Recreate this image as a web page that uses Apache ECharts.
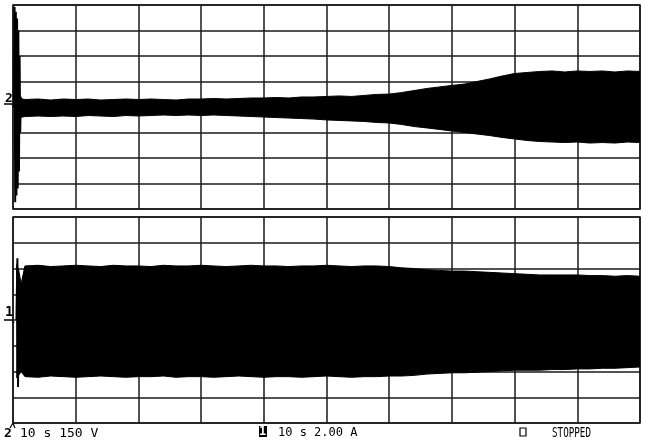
<!DOCTYPE html>
<html>
<head>
<meta charset="utf-8">
<script src="https://cdn.jsdelivr.net/npm/echarts@6/dist/echarts.min.js"></script>
<style>
  html, body { margin: 0; padding: 0; background: #fff; }
  #chart { width: 645px; height: 443px; }
</style>
</head>
<body>
<div id="chart"></div>
<script>
// channel 2 (150 V/div) envelope of the oscillation, time in s (10 s/div)
const ch2Time = [1, 2, 4, 6, 8, 10, 12, 14, 16, 18, 20, 22, 24, 26, 28, 30, 32, 34, 36, 38, 40,
  42, 44, 46, 48, 50, 52, 54, 56, 58, 60, 62, 64, 66, 68, 70, 72, 74, 76, 78, 80,
  82, 84, 86, 88, 90, 92, 94, 96, 98, 100];
const ch2Upper = [50, 44, 47, 41, 47, 44, 47, 41, 44, 47, 44, 47, 44, 41, 47, 47, 50, 47, 50, 53, 53,
  56, 53, 59, 59, 62, 65, 62, 68, 74, 76, 85, 97, 109, 118, 127, 135, 150, 165, 182, 197,
  203, 209, 212, 206, 212, 209, 212, 206, 212, 209];
const ch2Lower = [-62, -56, -53, -56, -53, -56, -50, -53, -56, -50, -53, -50, -47, -50, -47, -50, -47, -50, -53, -56, -59,
  -62, -65, -68, -71, -76, -79, -82, -85, -91, -94, -103, -115, -123, -132, -141, -150, -159, -168, -179, -188,
  -197, -203, -206, -209, -206, -212, -209, -212, -206, -209];
// switch-on transient at the start of channel 2
const ch2Spike = [[0.15, 0], [0.25, 590], [0.35, -560], [0.45, 560], [0.55, -520], [0.65, 520],
  [0.75, -480], [0.85, 450], [0.95, -380], [1.05, 300], [1.15, -150], [1.25, 60]];

// channel 1 (2.00 A/div) envelope
const ch1Time = [0.6, 0.9, 1.3, 1.9, 4, 6, 8, 10, 12, 14, 16, 18, 20, 22, 24, 26, 28, 30, 32, 34, 36, 38, 40,
  42, 44, 46, 48, 50, 52, 54, 56, 58, 60, 62, 64, 66, 68, 70, 72, 74, 76, 78, 80,
  82, 84, 86, 88, 90, 92, 94, 96, 98, 100];
const ch1Upper = [4.3, 3.9, 2.8, 4.2, 4.25, 4.15, 4.2, 4.25, 4.2, 4.15, 4.25, 4.2, 4.2, 4.15, 4.25, 4.2, 4.2, 4.25, 4.2, 4.15, 4.2, 4.25, 4.2,
  4.2, 4.15, 4.2, 4.2, 4.25, 4.2, 4.15, 4.2, 4.2, 4.15, 4.05, 4.0, 3.9, 3.85, 3.8, 3.8, 3.75, 3.7, 3.65, 3.6,
  3.55, 3.5, 3.5, 3.5, 3.5, 3.45, 3.45, 3.4, 3.45, 3.4];
const ch1Lower = [-4.5, -4.3, -4.0, -4.4, -4.45, -4.35, -4.4, -4.45, -4.4, -4.35, -4.4, -4.45, -4.4, -4.4, -4.35, -4.45, -4.4, -4.4, -4.45, -4.4, -4.35, -4.4, -4.45,
  -4.4, -4.4, -4.45, -4.4, -4.35, -4.4, -4.45, -4.4, -4.4, -4.35, -4.35, -4.3, -4.2, -4.15, -4.1, -4.1, -4.05, -4.0, -3.95, -3.9,
  -3.9, -3.9, -3.85, -3.85, -3.8, -3.8, -3.75, -3.75, -3.7, -3.65];
const ch1Spike = [[0.55, 0], [0.7, 4.8], [0.8, -5.2], [0.9, 0]];

const labelFont = '"DejaVu Sans Mono", monospace';

const chart = echarts.init(document.getElementById('chart'), null, { renderer: 'canvas' });

// filled band between the upper and lower envelope (one polygon per channel)
function bandSeries(idx, times, upper, lower) {
  return {
    type: 'custom',
    xAxisIndex: idx,
    yAxisIndex: idx,
    clip: true,
    silent: true,
    animation: false,
    z: 3,
    encode: { x: 0, y: [1, 2] },
    data: times.map((t, i) => [t, upper[i], lower[i]]),
    renderItem: (params, api) => {
      if (params.dataIndex !== 0) return null;
      const top = times.map((t, i) => api.coord([t, upper[i]]));
      const bottom = times.map((t, i) => api.coord([t, lower[i]])).reverse();
      return {
        type: 'polygon',
        shape: { points: top.concat(bottom) },
        style: { fill: '#000', stroke: '#000', lineWidth: 1 },
      };
    },
  };
}

function spikeSeries(idx, data) {
  return {
    type: 'line',
    xAxisIndex: idx,
    yAxisIndex: idx,
    data,
    symbol: 'none',
    lineStyle: { color: '#000', width: 2 },
    z: 4,
    silent: true,
    animation: false,
  };
}

const gridLine = { show: true, lineStyle: { color: '#1a1a1a', width: 1.5 } };

function xAxisFor(idx) {
  return {
    type: 'value', gridIndex: idx, min: 0, max: 100, interval: 10,
    axisLine: { show: false }, axisTick: { show: false }, axisLabel: { show: false },
    splitLine: gridLine,
  };
}
function yAxisFor(idx, lim, step) {
  return {
    type: 'value', gridIndex: idx, min: -lim, max: lim, interval: step,
    axisLine: { show: false }, axisTick: { show: false }, axisLabel: { show: false },
    splitLine: gridLine,
  };
}

const option = {
  backgroundColor: '#fff',
  animation: false,
  grid: [
    { left: 13, right: 5, top: 5, height: 204, show: true, borderColor: '#111', borderWidth: 1.5 },
    { left: 13, right: 5, top: 217, height: 206, show: true, borderColor: '#111', borderWidth: 1.5 },
  ],
  xAxis: [xAxisFor(0), xAxisFor(1)],
  yAxis: [yAxisFor(0, 600, 150), yAxisFor(1, 8, 2)],
  series: [
    bandSeries(0, ch2Time, ch2Upper, ch2Lower),
    spikeSeries(0, ch2Spike),
    bandSeries(1, ch1Time, ch1Upper, ch1Lower),
    spikeSeries(1, ch1Spike),
  ],
  graphic: [
    // channel ground markers
    { type: 'text', x: 5, y: 92, style: { text: '2', font: 'bold 13px ' + labelFont, fill: '#000' } },
    { type: 'polyline', shape: { points: [[4, 104], [12, 104], [14, 107]] }, style: { stroke: '#000', lineWidth: 1.5, fill: null } },
    { type: 'text', x: 5, y: 305, style: { text: '1', font: 'bold 14px ' + labelFont, fill: '#000' } },
    { type: 'polyline', shape: { points: [[4, 320], [12, 320], [14, 323]] }, style: { stroke: '#000', lineWidth: 1.5, fill: null } },
    // trigger marker
    { type: 'text', x: 4, y: 427, style: { text: '2', font: 'bold 13px ' + labelFont, fill: '#000' } },
    { type: 'polyline', shape: { points: [[10, 428], [13, 423], [15, 428]] }, style: { stroke: '#000', lineWidth: 1.2, fill: null } },
    // status line
    { type: 'text', x: 20, y: 427, style: { text: '10 s 150 V', font: '13px ' + labelFont, fill: '#000' } },
    { type: 'rect', shape: { x: 259, y: 426, width: 8, height: 11 }, style: { fill: '#000' } },
    { type: 'text', x: 259, y: 426, style: { text: '1', font: 'bold 12px ' + labelFont, fill: '#fff' } },
    { type: 'text', x: 278, y: 427, style: { text: '10 s 2.00 A', font: '12px ' + labelFont, fill: '#000' } },
    { type: 'rect', shape: { x: 520, y: 428, width: 6, height: 8 }, style: { fill: null, stroke: '#000', lineWidth: 1.2 } },
    { type: 'text', x: 552, y: 426, scaleX: 0.66, style: { text: 'STOPPED', font: '14px ' + labelFont, fill: '#000' } },
  ],
};

chart.setOption(option);
</script>
</body>
</html>
